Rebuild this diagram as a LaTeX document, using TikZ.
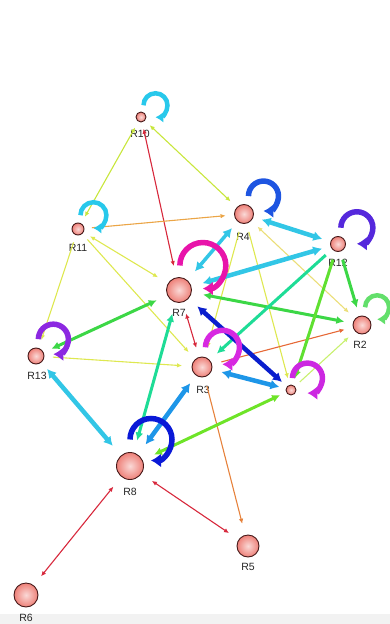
\documentclass[tikz,border=0pt]{standalone}
\usepackage{fontspec}
\setmainfont{Liberation Sans}
\usepackage{tikz}
\usetikzlibrary{arrows.meta}

\definecolor{nodepink}{RGB}{238,128,120}
\definecolor{nodeline}{RGB}{70,25,25}
\definecolor{loopcyan}{RGB}{40,200,235}
\definecolor{skyb}{RGB}{50,198,230}
\definecolor{dodger}{RGB}{30,150,232}
\definecolor{darkb}{RGB}{10,30,205}
\definecolor{royal}{RGB}{30,85,225}
\definecolor{indig}{RGB}{85,40,220}
\definecolor{purp}{RGB}{140,40,225}
\definecolor{magen}{RGB}{215,40,225}
\definecolor{deeppk}{RGB}{232,20,170}
\definecolor{loopblue}{RGB}{10,25,215}
\definecolor{grn}{RGB}{60,215,70}
\definecolor{lawn}{RGB}{110,228,40}
\definecolor{tealg}{RGB}{30,220,150}
\definecolor{yel}{RGB}{222,232,80}
\definecolor{yelg}{RGB}{200,230,60}
\definecolor{paleyel}{RGB}{235,222,120}
\definecolor{limeg}{RGB}{200,240,110}
\definecolor{orng}{RGB}{235,165,70}
\definecolor{orng2}{RGB}{230,130,60}
\definecolor{orred}{RGB}{230,105,55}
\definecolor{crim}{RGB}{215,40,60}

\begin{document}
\begin{tikzpicture}[x=1pt, y=-1pt,
	router/.style={circle, draw=nodeline, line width=0.9pt, shading=radial, inner color=nodepink!30!white, outer color=nodepink, inner sep=0pt},
	lbl/.style={font=\fontsize{10.5}{12}\selectfont, text=black!85, inner sep=0pt},
	fineone/.style={line width=1.1pt, -{Latex[length=5pt,width=4.5pt]}},
	fineboth/.style={line width=1.1pt, {Latex[length=5pt,width=4.5pt]}-{Latex[length=5pt,width=4.5pt]}},
	medone/.style={line width=3pt, -{Latex[length=8pt,width=8pt]}},
	medboth/.style={line width=3pt, {Latex[length=8pt,width=8pt]}-{Latex[length=8pt,width=8pt]}},
	boldboth/.style={line width=4.5pt, {Latex[length=9pt,width=10pt]}-{Latex[length=9pt,width=10pt]}},
	bigloop/.style={line width=5.5pt, -{Latex[length=10pt,width=14pt]}},
	smallloop/.style={line width=4.5pt, -{Latex[length=8pt,width=11pt]}}]
	
	\useasboundingbox (0,0) rectangle (390,624);
	\fill[black!5] (0,614) rectangle (390,624);
	
	\node[router, minimum size=10pt, outer sep=7pt]  (r10) at (141, 117) {};
	\node[router, minimum size=12pt, outer sep=8pt]  (r11) at (78, 229)  {};
	\node[router, minimum size=19pt, outer sep=9pt]  (r4)  at (244, 214) {};
	\node[router, minimum size=15pt, outer sep=9pt]  (r12) at (338, 244) {};
	\node[router, minimum size=25pt, outer sep=12pt] (r7)  at (179, 290) {};
	\node[router, minimum size=18pt, outer sep=9pt]  (r2)  at (362, 325) {};
	\node[router, minimum size=16pt, outer sep=9pt]  (r13) at (36, 356)  {};
	\node[router, minimum size=20pt, outer sep=10pt] (r3)  at (202, 367) {};
	\node[router, minimum size=10pt, outer sep=7pt]  (r9)  at (291, 390) {};
	\node[router, minimum size=27pt, outer sep=13pt] (r8)  at (130, 466) {};
	\node[router, minimum size=22pt, outer sep=12pt] (r5)  at (248, 546) {};
	\node[router, minimum size=24pt, outer sep=12pt] (r6)  at (26, 595)  {};
	
	\node[lbl] (r10l) at (140, 134) {R10};
	\node[lbl] (r11l) at (78, 248)  {R11};
	\node[lbl] (r4l)  at (243, 237) {R4};
	\node[lbl] (r12l) at (338, 263) {R12};
	\node[lbl] (r7l)  at (179, 313) {R7};
	\node[lbl] (r2l)  at (360, 345) {R2};
	\node[lbl] (r13l) at (37, 376)  {R13};
	\node[lbl] (r3l)  at (203, 390) {R3};
	\node[lbl] (r8l)  at (130, 492) {R8};
	\node[lbl] (r5l)  at (248, 567) {R5};
	\node[lbl] (r6l)  at (26, 618)  {R6};
	
	\path[fineboth, yelg] (r10) edge (r11);
	\path[fineboth, yelg] (r10) edge (r4);
	\path[fineboth, crim] (r10) edge (r7);
	\path[fineone, orng] (r11) edge (r4);
	\path[fineboth, yel] (r11) edge (r7);
	\path[fineone, yel] (r11) edge (r3);
	\path[fineone, yel] (r11) edge (r13);
	\path[fineboth, paleyel] (r4) edge (r2);
	\path[fineone, yel] (r4) edge (r3);
	\path[fineone, yel] (r4) edge (r9);
	\path[fineone, yel] (r13) edge (r3);
	\path[fineone, limeg] (r9) edge (r2);
	\path[fineone, orred] (r3) edge (r2);
	\path[fineone, orng2] (r3) edge (r5);
	\path[fineboth, crim] (r7) edge (r3);
	\path[fineboth, crim] (r8) edge (r6);
	\path[fineboth, crim] (r8) edge (r5);
	
	\path[medboth, grn] (r7) edge (r2);
	\path[medboth, grn] (r13) edge (r7);
	\path[medboth, lawn] (r8) edge (r9);
	\path[medone, grn] (r12) edge (r2);
	\path[medone, lawn!70!grn] (r12) edge (r9);
	\path[medone, tealg] (r12) edge (r3);
	\path[medboth, tealg] (r8) edge (r7);
	
	\path[boldboth, skyb] (r4) edge (r12);
	\path[boldboth, skyb] (r12) edge (r7);
	\path[boldboth, skyb, line width=3.5pt] (r4) edge (r7);
	\path[boldboth, skyb] (r13) edge (r8);
	\path[boldboth, dodger] (r8) edge (r3);
	\path[boldboth, dodger] (r3) edge (r9);
	\path[boldboth, darkb] (r7) edge (r9);
	
	\draw[smallloop, loopcyan] (r10.78) arc[start angle=180, end angle=450, radius=12];
	\draw[smallloop, loopcyan] (r11.80) arc[start angle=180, end angle=450, radius=13];
	\draw[bigloop, royal] (r4.76) arc[start angle=180, end angle=450, radius=15];
	\draw[bigloop, indig] (r12.80) arc[start angle=180, end angle=450, radius=16];
	\draw[smallloop, grn!80!white] (r2.80) arc[start angle=180, end angle=450, radius=12];
	\draw[bigloop, deeppk] (r7.88) arc[start angle=180, end angle=450, radius=23];
	\draw[bigloop, purp] (r13.82) arc[start angle=180, end angle=450, radius=15];
	\draw[bigloop, magen] (r3.80) arc[start angle=180, end angle=450, radius=17];
	\draw[bigloop, magen!85!purp] (r9.83) arc[start angle=180, end angle=450, radius=15];
	\draw[bigloop, loopblue] (r8.90) arc[start angle=180, end angle=450, radius=21];
	
\end{tikzpicture}
\end{document}
